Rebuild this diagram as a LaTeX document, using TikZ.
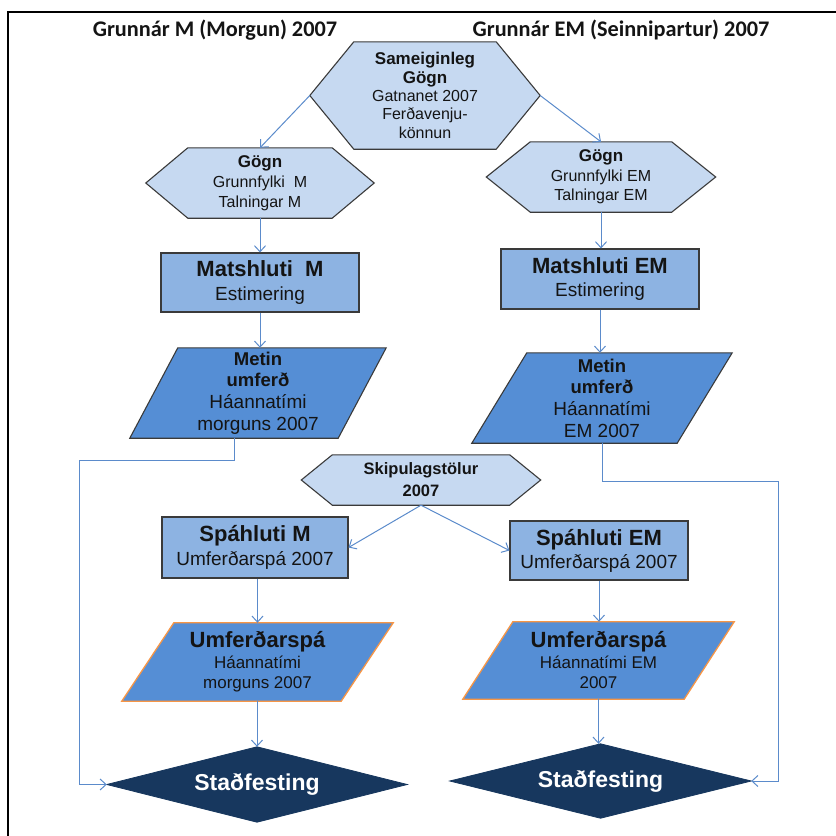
\documentclass[tikz,border=0pt]{standalone}
\usepackage{fontspec}
\setmainfont{Liberation Sans}
\newfontfamily\titlefont{Carlito}
\usetikzlibrary{arrows.meta,backgrounds}
\definecolor{hexfill}{HTML}{C6D9F1}
\definecolor{rectfill}{HTML}{8DB3E2}
\definecolor{parfill}{HTML}{558ED5}
\definecolor{orangeline}{HTML}{F79646}
\definecolor{navy}{HTML}{17375E}
\definecolor{arr}{HTML}{5B8BCB}
\definecolor{edge}{HTML}{3A3A3A}
\definecolor{txt}{HTML}{141414}
\newcommand\drawhex[3]{\begin{pgfonlayer}{background}\draw[#3] (#1.west) -- ([xshift=#2]#1.north west) -- ([xshift=-#2]#1.north east) -- (#1.east) -- ([xshift=-#2]#1.south east) -- ([xshift=#2]#1.south west) -- cycle;\end{pgfonlayer}}
\newcommand\drawpar[3]{\begin{pgfonlayer}{background}\draw[#3] ([xshift=#2]#1.north west) -- (#1.north east) -- ([xshift=-#2]#1.south east) -- (#1.south west) -- cycle;\end{pgfonlayer}}
\newcommand\drawdia[2]{\begin{pgfonlayer}{background}\draw[#2] (#1.north) -- (#1.east) -- (#1.south) -- (#1.west) -- cycle;\end{pgfonlayer}}
\begin{document}
\begin{tikzpicture}[x=1pt,y=-1pt,
  shp/.style={inner sep=0pt, align=center, text=txt},
  ttl/.style={inner sep=0pt, text=txt, font=\titlefont\fontsize{22.3}{26}\selectfont\bfseries},
  hexs/.style={fill=hexfill, draw=edge, line width=1.1pt, line join=miter},
  rects/.style={shp, fill=rectfill, draw=edge, line width=1.1pt},
  pars/.style={fill=parfill, draw=edge, line width=1.1pt},
  umfs/.style={fill=parfill, draw=orangeline, line width=1.3pt},
  dias/.style={fill=navy, draw=navy, line width=0.8pt},
  conn/.style={draw=arr, line width=1pt, -{Straight Barb[length=6pt,width=11pt]}},
]
\useasboundingbox (0,0) rectangle (836,836);
\draw[line width=2pt, line join=miter] (8,836) -- (8,12) -- (836,12);

% titles
\node[ttl] (t1) at (215,30) {Grunnár M (Morgun) 2007};
\node[ttl] (t2) at (621,30) {Grunnár EM (Seinnipartur) 2007};

% top hexagon
\node[shp, minimum width=230pt, minimum height=107pt, font=\fontsize{16}{18.3}\selectfont] (topH) at (425,95.5)
  {{\fontsize{17}{18}\selectfont\bfseries Sameiginleg}\\{\fontsize{17}{18}\selectfont\bfseries Gögn}\\Gatnanet 2007\\Ferðavenju-\\könnun};
\drawhex{topH}{44pt}{hexs}

% Gogn hexagons
\node[shp, minimum width=228pt, minimum height=70pt, font=\fontsize{16}{20}\selectfont] (gognM) at (260,183)
  {{\fontsize{17}{18}\selectfont\bfseries Gögn}\\Grunnfylki\ \ M\\Talningar M};
\drawhex{gognM}{42pt}{hexs}
\node[shp, minimum width=229pt, minimum height=70pt, font=\fontsize{16}{19.5}\selectfont] (gognEM) at (601,177)
  {{\fontsize{17}{18}\selectfont\bfseries Gögn}\\Grunnfylki EM\\Talningar EM};
\drawhex{gognEM}{44pt}{hexs}

% Matshluti
\node[rects, minimum width=198pt, minimum height=59pt, font=\fontsize{19}{24}\selectfont] (matM) at (260,282.5)
  {{\fontsize{22}{24}\selectfont\bfseries Matshluti\ \ M}\\Estimering};
\node[rects, minimum width=198pt, minimum height=60pt, font=\fontsize{19}{23}\selectfont] (matEM) at (600,279)
  {{\fontsize{22}{24}\selectfont\bfseries Matshluti EM}\\Estimering};

% Metin umferd
\node[shp, minimum width=256pt, minimum height=90pt, font=\fontsize{19}{21.7}\selectfont] (metM) at (258,393)
  {{\fontsize{18.5}{20}\selectfont\bfseries Metin}\\{\fontsize{18.5}{20}\selectfont\bfseries umferð}\\Háannatími\\morguns 2007};
\drawpar{metM}{48pt}{pars}
\node[shp, minimum width=260pt, minimum height=90pt, font=\fontsize{19}{21.7}\selectfont] (metEM) at (602,398)
  {{\fontsize{18.5}{20}\selectfont\bfseries Metin}\\{\fontsize{18.5}{20}\selectfont\bfseries umferð}\\Háannatími\\EM 2007};
\drawpar{metEM}{55pt}{pars}

% Skipulagstolur
\node[shp, minimum width=239pt, minimum height=50pt, font=\fontsize{16.5}{22}\selectfont\bfseries] (skip) at (421,480)
  {Skipulagstölur\\2007};
\drawhex{skip}{31pt}{hexs}

% Spahluti
\node[rects, minimum width=186pt, minimum height=61pt, font=\fontsize{19}{24}\selectfont] (spM) at (255,547.5)
  {{\fontsize{22}{24}\selectfont\bfseries Spáhluti M}\\Umferðarspá 2007};
\node[rects, minimum width=178pt, minimum height=59pt, font=\fontsize{19}{23}\selectfont] (spEM) at (599,550.5)
  {{\fontsize{22}{24}\selectfont\bfseries Spáhluti EM}\\Umferðarspá 2007};

% Umferdarspa
\node[shp, minimum width=271pt, minimum height=78pt, font=\fontsize{17}{20.5}\selectfont] (umM) at (257.5,662)
  {{\fontsize{22}{24}\selectfont\bfseries Umferðarspá}\\Háannatími\\morguns 2007};
\drawpar{umM}{52pt}{umfs}
\node[shp, minimum width=271pt, minimum height=77pt, font=\fontsize{17}{20.5}\selectfont] (umEM) at (598.5,660.5)
  {{\fontsize{22}{24}\selectfont\bfseries Umferðarspá}\\Háannatími EM\\2007};
\drawpar{umEM}{50pt}{umfs}

% Stadfesting
\node[shp, text=white, minimum width=300pt, minimum height=75pt, font=\fontsize{23}{26}\selectfont\bfseries] (dM) at (257,784.5) {Staðfesting};
\drawdia{dM}{dias}
\node[shp, text=white, minimum width=301pt, minimum height=74pt, font=\fontsize{23}{26}\selectfont\bfseries] (dEM) at (600.5,781) {Staðfesting};
\drawdia{dEM}{dias}

% connectors
\draw[conn] (topH.west) -- (gognM.north);
\draw[conn] (topH.east) -- (gognEM.north);
\draw[conn] (gognM.south) -- (gognM.south |- matM.north);
\draw[conn] (gognEM.south) -- (gognEM.south |- matEM.north);
\draw[conn] (matM.south) -- (matM.south |- metM.north);
\draw[conn] (matEM.south) -- (matEM.south |- metEM.north);
\draw[conn] (skip.south) -- (spM.east);
\draw[conn] (skip.south) -- (spEM.west);
\draw[conn] (umM.north |- spM.south) -- (umM.north);
\draw[conn] (spEM.south) -- (spEM.south |- umEM.north);
\draw[conn] (umM.south) -- (umM.south -| dM.north) -- (dM.north);
\draw[conn] (umEM.south) -- (umEM.south |- dEM.north);

% feedback lines
\coordinate (metMb) at ([xshift=-24pt]metM.south);
\coordinate (fbL) at (79,460);
\draw[conn] (metMb) |- (fbL) |- (dM.west);
\coordinate (fbR) at (778,481);
\draw[conn] (metEM.south) |- (fbR) |- (dEM.east);
\end{tikzpicture}
\end{document}
